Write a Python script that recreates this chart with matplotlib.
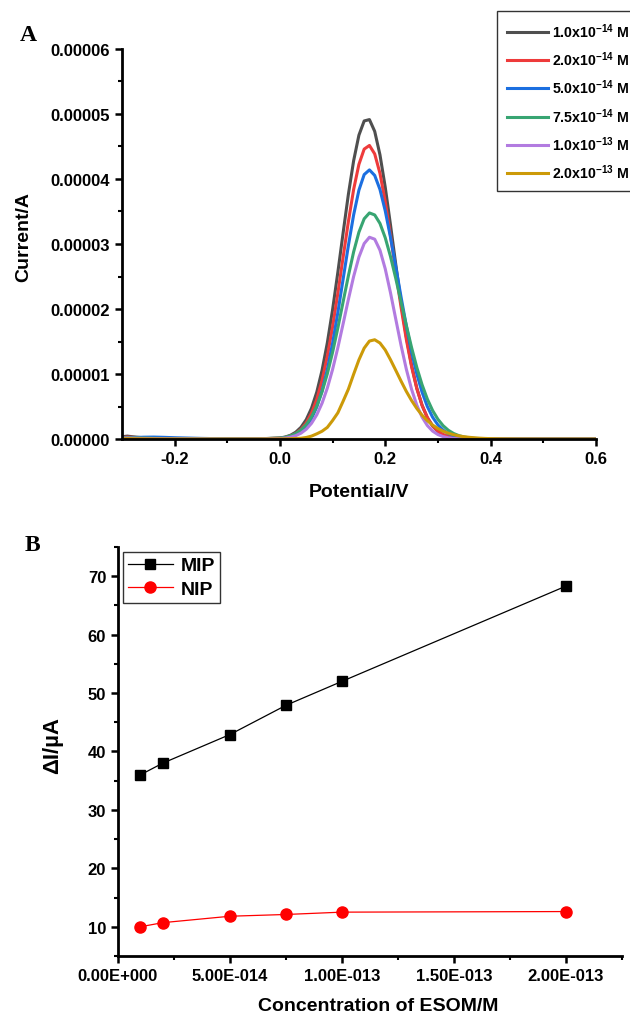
import numpy as np
import matplotlib
matplotlib.use('Agg')
import matplotlib.pyplot as plt
from matplotlib.ticker import MultipleLocator, FormatStrFormatter, FixedLocator

plt.rcParams['font.family'] = ['Liberation Sans', 'DejaVu Sans']
plt.rcParams['font.weight'] = 'bold'
plt.rcParams['mathtext.fontset'] = 'custom'
plt.rcParams['mathtext.rm'] = 'Liberation Sans:bold'
plt.rcParams['mathtext.bf'] = 'Liberation Sans:bold'
plt.rcParams['mathtext.default'] = 'bf'

# ---------------- Panel A data (current in uA)
potential = [-0.30, -0.29, -0.28, -0.26, -0.24, -0.22, -0.20, -0.15, -0.10, -0.05,
             0.00, 0.01, 0.02, 0.03, 0.04, 0.05, 0.06, 0.07, 0.08, 0.09,
             0.10, 0.11, 0.12, 0.13, 0.14, 0.15, 0.16, 0.17, 0.18, 0.19,
             0.20, 0.21, 0.22, 0.23, 0.24, 0.25, 0.26, 0.27, 0.28, 0.29,
             0.30, 0.31, 0.32, 0.33, 0.34, 0.35, 0.36, 0.37, 0.38, 0.39,
             0.40, 0.42, 0.45, 0.50, 0.55, 0.60]

i_1p0e14 = [0.35, 0.45, 0.35, 0.20, 0.15, 0.10, 0.08, 0.04, 0.01, 0.00,
            0.16, 0.31, 0.58, 1.05, 1.81, 2.99, 4.75, 7.23, 10.57, 14.80,
            19.90, 25.66, 31.72, 37.64, 42.82, 46.74, 48.93, 49.14, 47.33, 43.72,
            38.75, 32.95, 26.87, 21.01, 15.77, 11.35, 7.83, 5.19, 3.29, 2.00,
            1.17, 0.66, 0.35, 0.18, 0.09, 0.04, 0.02, 0.01, 0.00, 0.00,
            0.00, 0.00, 0.00, 0.00, 0.00, 0.00]
i_2p0e14 = [0.20, 0.30, 0.25, 0.18, 0.12, 0.08, 0.06, 0.03, 0.01, 0.00,
            0.13, 0.25, 0.47, 0.86, 1.49, 2.49, 3.98, 6.12, 9.01, 12.73,
            17.25, 22.42, 27.97, 33.45, 38.40, 42.25, 44.60, 45.16, 43.86, 40.87,
            36.52, 31.31, 25.74, 20.31, 15.35, 11.15, 7.75, 5.18, 3.31, 2.03,
            1.20, 0.68, 0.37, 0.19, 0.10, 0.05, 0.02, 0.01, 0.00, 0.00,
            0.00, 0.00, 0.00, 0.00, 0.00, 0.00]
i_5p0e14 = [0.10, 0.15, 0.20, 0.28, 0.30, 0.26, 0.20, 0.10, 0.03, 0.00,
            0.08, 0.17, 0.33, 0.63, 1.12, 1.92, 3.14, 4.94, 7.42, 10.69,
            14.73, 19.46, 24.59, 29.76, 34.49, 38.28, 40.68, 41.40, 40.55, 38.39,
            35.11, 31.03, 26.50, 21.87, 17.44, 13.44, 10.01, 7.20, 5.00, 3.36,
            2.18, 1.37, 0.83, 0.49, 0.27, 0.15, 0.08, 0.04, 0.02, 0.01,
            0.00, 0.00, 0.00, 0.00, 0.00, 0.00]
i_7p5e14 = [0.15, 0.20, 0.18, 0.14, 0.10, 0.07, 0.05, 0.02, 0.01, 0.00,
            0.15, 0.27, 0.49, 0.84, 1.39, 2.22, 3.42, 5.08, 7.27, 10.04,
            13.34, 17.09, 21.11, 25.11, 28.80, 31.82, 33.88, 34.78, 34.47, 33.17,
            30.97, 28.08, 24.71, 21.11, 17.50, 14.09, 11.01, 8.35, 6.15, 4.39,
            3.05, 2.05, 1.34, 0.85, 0.52, 0.31, 0.18, 0.10, 0.05, 0.03,
            0.01, 0.00, 0.00, 0.00, 0.00, 0.00]
i_1p0e13 = [0.12, 0.15, 0.13, 0.10, 0.08, 0.06, 0.04, 0.02, 0.00, 0.00,
            0.08, 0.15, 0.29, 0.52, 0.90, 1.51, 2.42, 3.73, 5.51, 7.84,
            10.71, 14.06, 17.73, 21.48, 25.01, 27.98, 30.07, 31.04, 30.74, 29.05,
            26.18, 22.50, 18.45, 14.43, 10.77, 7.66, 5.20, 3.37, 2.08, 1.22,
            0.69, 0.37, 0.19, 0.09, 0.04, 0.02, 0.01, 0.00, 0.00, 0.00,
            0.00, 0.00, 0.00, 0.00, 0.00, 0.00]
i_2p0e13 = [0.05, 0.06, 0.05, 0.04, 0.03, 0.02, 0.01, 0.00, 0.00, 0.00,
            0.02, 0.03, 0.05, 0.08, 0.12, 0.24, 0.45, 0.80, 1.20, 1.79,
            2.85, 4.03, 5.82, 7.67, 9.97, 12.18, 13.98, 15.07, 15.27, 14.77,
            13.70, 12.20, 10.57, 8.92, 7.34, 5.93, 4.70, 3.66, 2.82, 2.15,
            1.61, 1.21, 0.89, 0.66, 0.48, 0.35, 0.26, 0.19, 0.13, 0.09,
            0.06, 0.03, 0.01, 0.00, 0.00, 0.00]

curves = [i_1p0e14, i_2p0e14, i_5p0e14, i_7p5e14, i_1p0e13, i_2p0e13]
curve_labels = ['1.0x10$^{-14}$ M', '2.0x10$^{-14}$ M', '5.0x10$^{-14}$ M',
                '7.5x10$^{-14}$ M', '1.0x10$^{-13}$ M', '2.0x10$^{-13}$ M']
curve_colors = ['#4f4f4f', '#ee3b3b', '#1c6fe0', '#38a572', '#b27be0', '#cc9a08']

# ---------------- Panel B data
conc = [1.0e-14, 2.0e-14, 5.0e-14, 7.5e-14, 1.0e-13, 2.0e-13]
mip = [36.0, 38.0, 42.9, 47.9, 52.0, 68.3]
nip = [10.0, 10.7, 11.8, 12.1, 12.5, 12.6]
conc_ticks = [0.0, 5.0e-14, 1.0e-13, 1.5e-13, 2.0e-13]
conc_ticklabels = ['0.00E+000', '5.00E-014', '1.00E-013', '1.50E-013', '2.00E-013']

fig = plt.figure(figsize=(6.3, 10.2), dpi=100)

# ================= Panel A
axA = fig.add_axes([0.1937, 0.5686, 0.752, 0.3824])
x = np.array(potential)
for y, lab, col in zip(curves, curve_labels, curve_colors):
    axA.plot(x, np.array(y) * 1e-6, color=col, linewidth=2.2, label=lab,
             solid_joinstyle='round')

axA.set_xlim(-0.3, 0.6)
axA.set_ylim(0, 0.00006)
axA.xaxis.set_major_locator(FixedLocator([-0.2, 0.0, 0.2, 0.4, 0.6]))
axA.xaxis.set_minor_locator(FixedLocator([-0.1, 0.1, 0.3, 0.5]))
axA.xaxis.set_major_formatter(FormatStrFormatter('%.1f'))
axA.yaxis.set_major_locator(MultipleLocator(0.00001))
axA.yaxis.set_minor_locator(MultipleLocator(0.000005))
axA.yaxis.set_major_formatter(FormatStrFormatter('%.5f'))
for s in ['top', 'right']:
    axA.spines[s].set_visible(False)
for s in ['left', 'bottom']:
    axA.spines[s].set_linewidth(2.0)
axA.tick_params(which='major', direction='out', length=5, width=1.8, labelsize=12)
axA.tick_params(which='minor', direction='out', length=3, width=1.5)
axA.set_xlabel('Potential/V', fontsize=14, fontweight='bold')
axA.set_ylabel('Current/A', fontsize=14, fontweight='bold')
axA.xaxis.set_label_coords(0.5, -0.112)
axA.yaxis.set_label_coords(-0.19, 0.52)

legA = fig.legend(loc='upper left', bbox_to_anchor=(497 / 630, 1 - 12 / 1020),
                  frameon=True, fancybox=False, fontsize=10.2, handlelength=2.9,
                  labelspacing=0.69, borderaxespad=0, borderpad=0.7, handletextpad=0.3)
legA.get_frame().set_edgecolor('black')
legA.get_frame().set_linewidth(1.0)

fig.text(20 / 630, 1 - 41 / 1020, 'A', fontsize=17, fontweight='bold',
         family=['Liberation Serif', 'DejaVu Serif'])

# ================= Panel B
axB = fig.add_axes([0.1873, 0.0618, 0.80, 0.401])
axB.plot(conc, mip, color='black', linewidth=0.9, marker='s', markersize=7.5, label='MIP')
axB.plot(conc, nip, color='red', linewidth=0.9, marker='o', markersize=8, label='NIP')
axB.set_xlim(0, 2.25e-13)
axB.set_ylim(5, 75)
axB.xaxis.set_major_locator(FixedLocator(conc_ticks))
axB.set_xticklabels(conc_ticklabels)
axB.xaxis.set_minor_locator(MultipleLocator(2.5e-14))
axB.yaxis.set_major_locator(MultipleLocator(10))
axB.yaxis.set_minor_locator(MultipleLocator(5))
for s in ['top', 'right']:
    axB.spines[s].set_visible(False)
for s in ['left', 'bottom']:
    axB.spines[s].set_linewidth(2.0)
axB.tick_params(which='major', direction='out', length=5, width=1.8, labelsize=12)
axB.tick_params(which='minor', direction='out', length=3, width=1.5)
axB.set_xlabel('Concentration of ESOM/M', fontsize=14, fontweight='bold')
axB.set_ylabel('ΔI/µA', fontsize=16, fontweight='bold')
axB.xaxis.set_label_coords(0.516, -0.1)
axB.yaxis.set_label_coords(-0.109, 0.517)

legB = axB.legend(loc='upper left', bbox_to_anchor=(123 / 630, 1 - 553 / 1020),
                  bbox_transform=fig.transFigure, frameon=True, fancybox=False,
                  fontsize=14, handlelength=2.3, borderaxespad=0, borderpad=0.25,
                  labelspacing=0.3, handletextpad=0.4)
legB.get_frame().set_edgecolor('black')
legB.get_frame().set_linewidth(1.0)

fig.text(25 / 630, 1 - 551 / 1020, 'B', fontsize=17, fontweight='bold',
         family=['Liberation Serif', 'DejaVu Serif'])

fig.savefig('out.png', dpi=100, facecolor='white')
